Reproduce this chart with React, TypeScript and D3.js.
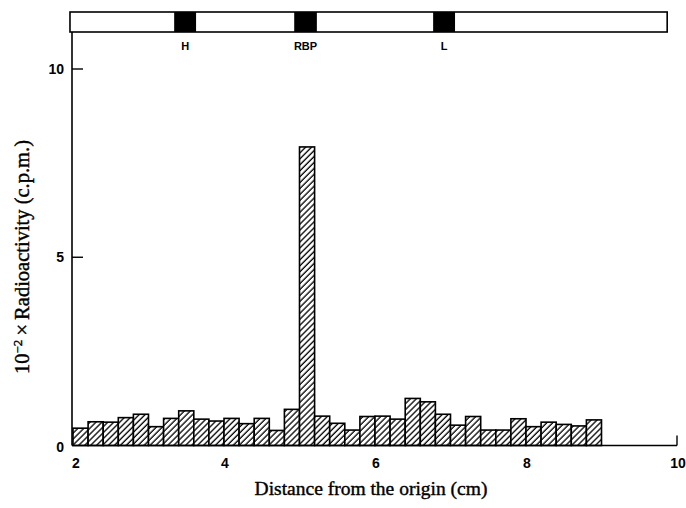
import React, { useRef, useEffect } from 'react';
import * as d3 from 'd3';

// bin start positions (cm) and counts (x 10^-2 c.p.m.)
const binStarts = [
  2.0, 2.2, 2.4, 2.6, 2.8, 3.0, 3.2, 3.4, 3.6, 3.8,
  4.0, 4.2, 4.4, 4.6, 4.8, 5.0, 5.2, 5.4, 5.6, 5.8,
  6.0, 6.2, 6.4, 6.6, 6.8, 7.0, 7.2, 7.4, 7.6, 7.8,
  8.0, 8.2, 8.4, 8.6, 8.8
];
const counts = [
  0.46, 0.63, 0.62, 0.74, 0.83, 0.5, 0.72, 0.92, 0.7, 0.65,
  0.72, 0.58, 0.72, 0.4, 0.96, 7.93, 0.78, 0.59, 0.41, 0.77,
  0.78, 0.7, 1.25, 1.16, 0.83, 0.54, 0.77, 0.41, 0.41, 0.71,
  0.5, 0.62, 0.56, 0.52, 0.68
];
const binWidth = 0.2;

// gel strip with marker bands
const gelRange = [1.96, 9.87];
const bandLabels = ['H', 'RBP', 'L'];
const bandStarts = [3.34, 4.93, 6.77];
const bandEnds = [3.63, 5.23, 7.06];

const xTicks = [2, 4, 6, 8, 10];
const yTicks = [0, 5, 10];

const App = () => {
  const ref = useRef<SVGSVGElement | null>(null);

  useEffect(() => {
    if (!ref.current) return;
    const svg = d3.select(ref.current);
    svg.selectAll('*').remove();

    const width = 686;
    const height = 508;
    svg.attr('width', width).attr('height', height)
      .style('position', 'absolute').style('left', 0).style('top', 0);

    const x = d3.scaleLinear().domain([2, 10]).range([73, 677]);
    const y = d3.scaleLinear().domain([0, 10]).range([445.5, 69]);

    // hatch pattern
    const defs = svg.append('defs');
    const pat = defs.append('pattern')
      .attr('id', 'hatch')
      .attr('patternUnits', 'userSpaceOnUse')
      .attr('width', 4.2)
      .attr('height', 10)
      .attr('patternTransform', 'rotate(45)');
    pat.append('rect').attr('width', 4.2).attr('height', 10).attr('fill', '#fff');
    pat.append('line')
      .attr('x1', 1).attr('y1', 0).attr('x2', 1).attr('y2', 10)
      .attr('stroke', '#000').attr('stroke-width', 1.3);

    // gel strip
    const gelTop = 12;
    const gelBottom = 32;
    svg.append('rect')
      .attr('x', x(gelRange[0]))
      .attr('y', gelTop)
      .attr('width', x(gelRange[1]) - x(gelRange[0]))
      .attr('height', gelBottom - gelTop)
      .attr('fill', '#fff')
      .attr('stroke', '#000')
      .attr('stroke-width', 1.6);

    svg.selectAll('.band')
      .data(bandLabels)
      .enter()
      .append('rect')
      .attr('class', 'band')
      .attr('x', (d, i) => x(bandStarts[i]))
      .attr('y', gelTop)
      .attr('width', (d, i) => x(bandEnds[i]) - x(bandStarts[i]))
      .attr('height', gelBottom - gelTop)
      .attr('fill', '#000');

    svg.selectAll('.bandLabel')
      .data(bandLabels)
      .enter()
      .append('text')
      .attr('class', 'bandLabel')
      .attr('x', (d, i) => x((bandStarts[i] + bandEnds[i]) / 2))
      .attr('y', 50)
      .attr('text-anchor', 'middle')
      .attr('font-family', 'Liberation Sans, Arial, sans-serif')
      .attr('font-weight', 'bold')
      .attr('font-size', 11)
      .text(d => d);

    // bars
    svg.selectAll('.bar')
      .data(counts)
      .enter()
      .append('rect')
      .attr('class', 'bar')
      .attr('x', (d, i) => x(binStarts[i]))
      .attr('y', d => y(d))
      .attr('width', (d, i) => x(binStarts[i] + binWidth) - x(binStarts[i]))
      .attr('height', d => y(0) - y(d))
      .attr('fill', 'url(#hatch)')
      .attr('stroke', '#000')
      .attr('stroke-width', 1.6);

    // axes
    svg.append('line')
      .attr('x1', 72).attr('x2', 72)
      .attr('y1', gelBottom).attr('y2', y(0))
      .attr('stroke', '#000').attr('stroke-width', 1.6);
    svg.append('line')
      .attr('x1', 72).attr('x2', x(10))
      .attr('y1', y(0)).attr('y2', y(0))
      .attr('stroke', '#000').attr('stroke-width', 1.6);
    svg.append('line')
      .attr('x1', x(10)).attr('x2', x(10))
      .attr('y1', y(0)).attr('y2', y(0) - 10)
      .attr('stroke', '#000').attr('stroke-width', 1.4);

    svg.selectAll('.ytick')
      .data(yTicks.filter(t => t > 0))
      .enter()
      .append('line')
      .attr('class', 'ytick')
      .attr('x1', 72).attr('x2', 83)
      .attr('y1', d => y(d)).attr('y2', d => y(d))
      .attr('stroke', '#000').attr('stroke-width', 1.4);

    const tickFont = 'Liberation Sans, Arial, sans-serif';
    svg.selectAll('.ylab')
      .data(yTicks)
      .enter()
      .append('text')
      .attr('class', 'ylab')
      .attr('x', 64)
      .attr('y', d => y(d) + (d === 0 ? 6 : 5))
      .attr('text-anchor', 'end')
      .attr('font-family', tickFont)
      .attr('font-weight', 'bold')
      .attr('font-size', 14)
      .text(d => d);

    svg.selectAll('.xlab')
      .data(xTicks)
      .enter()
      .append('text')
      .attr('class', 'xlab')
      .attr('x', d => x(d) + (d === 2 ? 3 : 1))
      .attr('y', 468)
      .attr('text-anchor', 'middle')
      .attr('font-family', tickFont)
      .attr('font-weight', 'bold')
      .attr('font-size', 14)
      .text(d => d);

    // axis titles
    const titleFont = 'Liberation Serif, Times New Roman, serif';
    svg.append('text')
      .attr('x', 371)
      .attr('y', 495)
      .attr('text-anchor', 'middle')
      .attr('font-family', titleFont)
      .attr('font-size', 19.5)
      .attr('stroke', '#000')
      .attr('stroke-width', 0.4)
      .text('Distance from the origin (cm)');

    const yTitle = svg.append('text')
      .attr('transform', 'translate(29,374) rotate(-90)')
      .attr('text-anchor', 'start')
      .attr('font-family', titleFont)
      .attr('font-size', 20.5)
      .attr('stroke', '#000')
      .attr('stroke-width', 0.4);
    yTitle.append('tspan').text('10');
    yTitle.append('tspan').attr('dy', -7).attr('font-size', 13).text('\u22122');
    yTitle.append('tspan').attr('dy', 7).text('\u2009\u00d7\u2009Radioactivity (c.p.m.)');
  }, []);

  return (
    <div>
      <svg ref={ref} />
    </div>
  );
};

export default App;
